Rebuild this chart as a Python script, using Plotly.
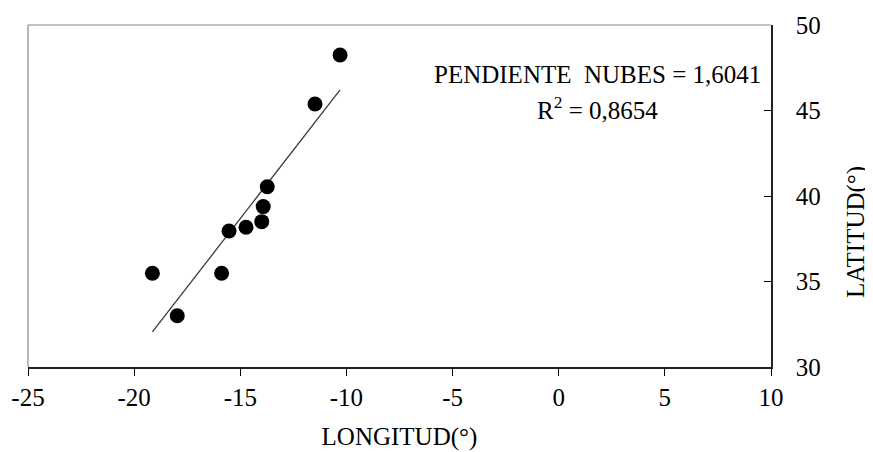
import numpy as np
import plotly.graph_objects as go

# Data
longitud = [-10.30, -11.48, -13.73, -13.92, -13.99, -14.73, -15.53, -15.88, -19.14, -17.97]
latitud = [48.25, 45.38, 40.54, 39.38, 38.50, 38.17, 37.95, 35.48, 35.48, 33.00]
x_ticks = [-25, -20, -15, -10, -5, 0, 5, 10]
x_tick_labels = ["-25", "-20", "-15", "-10", "-5", "0", "5", "10"]
y_ticks = [30, 35, 40, 45, 50]
y_tick_labels = ["30", "35", "40", "45", "50"]
label_slope = "PENDIENTE  NUBES = 1,6041"
label_r2 = "R<sup>2</sup> = 0,8654"

xs = np.array(longitud)
ys = np.array(latitud)
m, b = np.polyfit(xs, ys, 1)
x_line = np.array([xs.min(), xs.max()])
y_line = m * x_line + b

# The page body has an 8px default margin, so the figure is shifted by 8px
OFF = 8
W, H = 873 - OFF, 452 - OFF
L, T = 28 - OFF, 25 - OFF
R = W - (771 - OFF)
B = H - (367 - OFF)
FONT = "Liberation Serif"
FS = 25

fig = go.Figure()
fig.add_trace(go.Scatter(x=x_line, y=y_line, mode="lines",
                         line=dict(color="#3a3a3a", width=1.3), showlegend=False))
fig.add_trace(go.Scatter(x=longitud, y=latitud, mode="markers",
                         marker=dict(color="black", size=15, line=dict(width=0)),
                         showlegend=False))

fig.update_layout(
    width=W, height=H,
    margin=dict(l=L, r=R, t=T, b=B, autoexpand=False),
    paper_bgcolor="white", plot_bgcolor="white",
    font=dict(family=FONT, size=FS, color="black"),
    xaxis=dict(range=[-25, 10], tickvals=x_ticks, ticktext=x_tick_labels,
               ticks="outside", ticklen=7,
               tickcolor="black", tickwidth=1.2, showline=True, linecolor="#222",
               linewidth=1.6, showgrid=False, zeroline=False, automargin=False,
               tickfont=dict(family=FONT, size=FS),
               title=dict(text="LONGITUD(°)", font=dict(family=FONT, size=FS), standoff=18)),
    yaxis=dict(range=[30, 50], tickvals=y_ticks, ticktext=y_tick_labels,
               side="right", ticks="inside", ticklen=7, ticklabelstandoff=18,
               tickcolor="black", tickwidth=1.2, showline=True, linecolor="#222",
               linewidth=1.6, showgrid=False, zeroline=False, automargin=False,
               tickfont=dict(family=FONT, size=FS)),
)

# light frame on top/left
fig.add_shape(type="line", xref="paper", yref="paper", x0=0, x1=1, y0=1, y1=1,
              line=dict(color="#888", width=1.2))
fig.add_shape(type="line", xref="paper", yref="paper", x0=0, x1=0, y0=0, y1=1,
              line=dict(color="#888", width=1.2))

pw = W - L - R
ph = H - T - B
def px(xp):
    return (xp - OFF - L) / pw
def py(yp):
    return 1 - (yp - OFF - T) / ph

fig.add_annotation(text=label_slope, xref="paper", yref="paper", x=px(597), y=py(75),
                   showarrow=False, xanchor="center", yanchor="middle",
                   font=dict(family=FONT, size=FS))
fig.add_annotation(text=label_r2, xref="paper", yref="paper", x=px(597), y=py(108),
                   showarrow=False, xanchor="center", yanchor="middle",
                   font=dict(family=FONT, size=FS))
fig.add_annotation(text="LATITUD(°)", xref="paper", yref="paper", x=px(856), y=py(232),
                   showarrow=False, xanchor="center", yanchor="middle", textangle=-90,
                   font=dict(family=FONT, size=FS))

fig.write_html("out.html")
